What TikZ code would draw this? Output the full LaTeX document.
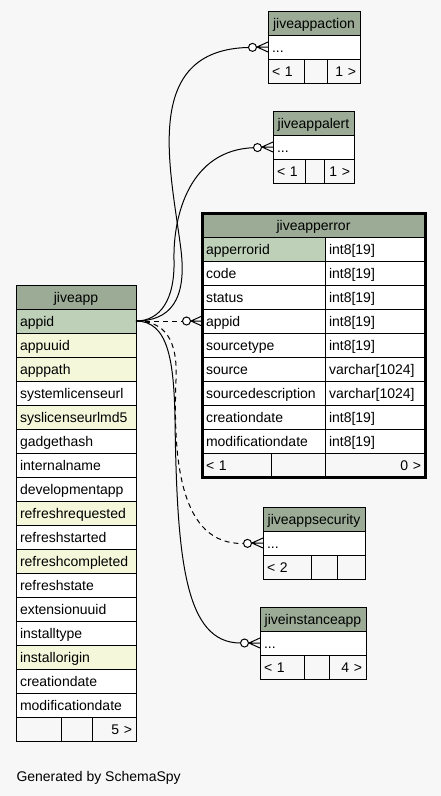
\documentclass[tikz,border=0pt]{standalone}
\usepackage{fontspec}
\setmainfont{Liberation Sans}
\usetikzlibrary{positioning,arrows.meta}

\definecolor{bgc}{HTML}{F7F7F7}
\definecolor{hdc}{HTML}{9BAB96}
\definecolor{pkc}{HTML}{BED1B8}
\definecolor{ixc}{HTML}{F4F7DA}

% crow's foot at the west side of a row
\newcommand{\crowfoot}[1]{%
  \draw ([yshift=5pt]#1.west) -- ++(-11pt,-5pt) -- ([yshift=-5pt]#1.west)
        (#1.west) -- ++(-11pt,0pt);}

\begin{document}
\begin{tikzpicture}[x=1pt, y=-1pt, line width=1pt, font=\fontsize{14}{17}\selectfont,
  cell/.style={draw, outer sep=0pt, inner xsep=4pt, inner ysep=0pt,
               minimum height=24pt, text height=12pt, text depth=2pt},
  head/.style={cell, fill=hdc, minimum width=#1},
  fld/.style={cell, fill=white, text width=#1, align=left},
  pkfld/.style={fld=#1, fill=pkc},
  ixfld/.style={fld=#1, fill=ixc},
  foot/.style={cell, fill=bgc, text width=#1, align=left},
  footr/.style={cell, fill=bgc, text width=#1, align=right},
  rel/.style={shorten >=11pt, -{Circle[fill=white, length=9pt, width=9pt]}},
  optrel/.style={rel, dash pattern=on 5pt off 4pt}]

\fill[bgc] (0,0) rectangle (441,796);

% jiveapp
\node[head=120pt, anchor=north west] (app) at (16,285) {jiveapp};
\node[pkfld=112pt, below=0pt of app]          (app-appid)    {appid};
\node[ixfld=112pt, below=0pt of app-appid]    (app-uuid)     {appuuid};
\node[ixfld=112pt, below=0pt of app-uuid]     (app-path)     {apppath};
\node[fld=112pt,   below=0pt of app-path]     (app-licurl)   {systemlicenseurl};
\node[ixfld=112pt, below=0pt of app-licurl]   (app-licmd5)   {syslicenseurlmd5};
\node[fld=112pt,   below=0pt of app-licmd5]   (app-hash)     {gadgethash};
\node[fld=112pt,   below=0pt of app-hash]     (app-iname)    {internalname};
\node[fld=112pt,   below=0pt of app-iname]    (app-devapp)   {developmentapp};
\node[ixfld=112pt, below=0pt of app-devapp]   (app-rreq)     {refreshrequested};
\node[fld=112pt,   below=0pt of app-rreq]     (app-rstart)   {refreshstarted};
\node[ixfld=112pt, below=0pt of app-rstart]   (app-rdone)    {refreshcompleted};
\node[fld=112pt,   below=0pt of app-rdone]    (app-rstate)   {refreshstate};
\node[fld=112pt,   below=0pt of app-rstate]   (app-extuuid)  {extensionuuid};
\node[fld=112pt,   below=0pt of app-extuuid]  (app-itype)    {installtype};
\node[ixfld=112pt, below=0pt of app-itype]    (app-iorigin)  {installorigin};
\node[fld=112pt,   below=0pt of app-iorigin]  (app-cdate)    {creationdate};
\node[fld=112pt,   below=0pt of app-cdate]    (app-mdate)    {modificationdate};
\node[foot=37pt, anchor=north west] (app-f1) at (app-mdate.south west) {};
\node[foot=23pt,  right=0pt of app-f1] (app-f2) {};
\node[footr=36pt, right=0pt of app-f2] (app-f3) {5 >};

% jiveappaction
\node[head=92pt, anchor=north west] (act) at (268,11) {jiveappaction};
\node[fld=84pt, below=0pt of act] (act-dots) {...};
\node[foot=28pt, anchor=north west] (act-f1) at (act-dots.south west) {< 1};
\node[foot=15pt,  right=0pt of act-f1] (act-f2) {};
\node[footr=25pt, right=0pt of act-f2] (act-f3) {1 >};

% jiveappalert
\node[head=81pt, anchor=north west] (alr) at (273,111) {jiveappalert};
\node[fld=73pt, below=0pt of alr] (alr-dots) {...};
\node[foot=24pt, anchor=north west] (alr-f1) at (alr-dots.south west) {< 1};
\node[foot=11pt,  right=0pt of alr-f1] (alr-f2) {};
\node[footr=22pt, right=0pt of alr-f2] (alr-f3) {1 >};

% jiveapperror
\node[head=223pt, anchor=north west] (err) at (202,213) {jiveapperror};
\node[pkfld=115pt, anchor=north west] (err-id) at (err.south west) {apperrorid};
\node[fld=115pt, below=0pt of err-id]     (err-code)   {code};
\node[fld=115pt, below=0pt of err-code]   (err-status) {status};
\node[fld=115pt, below=0pt of err-status] (err-appid)  {appid};
\node[fld=115pt, below=0pt of err-appid]  (err-stype)  {sourcetype};
\node[fld=115pt, below=0pt of err-stype]  (err-src)    {source};
\node[fld=115pt, below=0pt of err-src]    (err-sdesc)  {sourcedescription};
\node[fld=115pt, below=0pt of err-sdesc]  (err-cdate)  {creationdate};
\node[fld=115pt, below=0pt of err-cdate]  (err-mdate)  {modificationdate};
\node[fld=92pt, right=0pt of err-id]     {int8[19]};
\node[fld=92pt, right=0pt of err-code]   {int8[19]};
\node[fld=92pt, right=0pt of err-status] {int8[19]};
\node[fld=92pt, right=0pt of err-appid]  {int8[19]};
\node[fld=92pt, right=0pt of err-stype]  {int8[19]};
\node[fld=92pt, right=0pt of err-src]    {varchar[1024]};
\node[fld=92pt, right=0pt of err-sdesc]  {varchar[1024]};
\node[fld=92pt, right=0pt of err-cdate]  {int8[19]};
\node[fld=92pt, right=0pt of err-mdate]  {int8[19]};
\node[foot=61pt, anchor=north west] (err-f1) at (err-mdate.south west) {< 1};
\node[foot=46pt,  right=0pt of err-f1] (err-f2) {};
\node[footr=92pt, right=0pt of err-f2] (err-f3) {0 >};
\draw[line width=3pt] (err.north west) rectangle (err-f3.south east);

% jiveappsecurity
\node[head=102pt, anchor=north west] (sec) at (263,507) {jiveappsecurity};
\node[fld=94pt, below=0pt of sec] (sec-dots) {...};
\node[foot=40pt, anchor=north west] (sec-f1) at (sec-dots.south west) {< 2};
\node[foot=18pt, right=0pt of sec-f1] (sec-f2) {};
\node[foot=20pt, right=0pt of sec-f2] (sec-f3) {};

% jiveinstanceapp
\node[head=106pt, anchor=north west] (inst) at (260,607) {jiveinstanceapp};
\node[fld=98pt, below=0pt of inst] (inst-dots) {...};
\node[foot=36pt, anchor=north west] (inst-f1) at (inst-dots.south west) {< 1};
\node[foot=17pt,  right=0pt of inst-f1] (inst-f2) {};
\node[footr=29pt, right=0pt of inst-f2] (inst-f3) {4 >};

% relations
\draw[rel] (app-appid.east) .. controls (170,321) and (187,300) .. (181,250)
  .. controls (171,170) and (140,50) .. (act-dots.west);
\crowfoot{act-dots}
\draw[rel] (app-appid.east) .. controls (160,321) and (175,300) .. (174,260)
  .. controls (173,215) and (190,150) .. (alr-dots.west);
\crowfoot{alr-dots}
\draw[optrel] (app-appid.east) -- (err-appid.west);
\crowfoot{err-appid}
\draw[optrel] (app-appid.east) .. controls (165,321) and (178,340) .. (176,380)
  .. controls (173,460) and (180,545) .. (sec-dots.west);
\crowfoot{sec-dots}
\draw[rel] (app-appid.east) .. controls (168,321) and (174,360) .. (175,420)
  .. controls (177,560) and (185,643) .. (inst-dots.west);
\crowfoot{inst-dots}

\node[anchor=base west, inner sep=0pt] (gen) at (16,781) {Generated by SchemaSpy};
\end{tikzpicture}
\end{document}
